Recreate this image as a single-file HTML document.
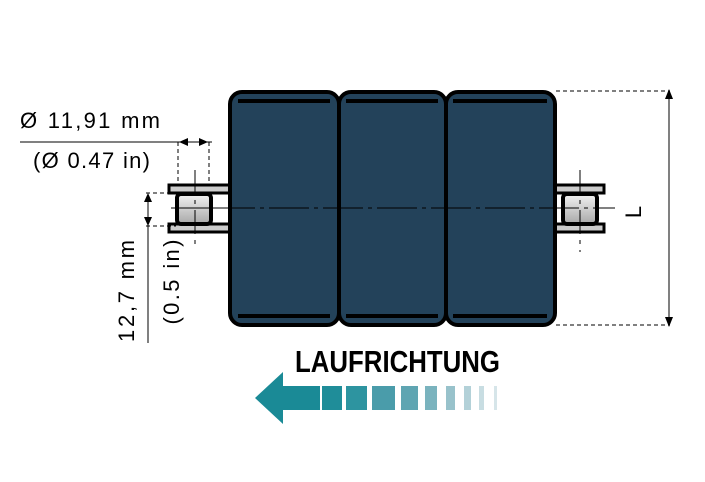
<!DOCTYPE html>
<html><head><style>body{margin:0;background:#fff}svg{display:block}</style></head><body>
<svg width="705" height="482" viewBox="0 0 705 482" xmlns="http://www.w3.org/2000/svg" font-family="Liberation Sans, sans-serif">
<defs><linearGradient id="g" x1="0" y1="0" x2="0" y2="1"><stop offset="0" stop-color="#f2f2f2"/><stop offset="1" stop-color="#a8a8a8"/></linearGradient></defs>
<rect x="169" y="185" width="62" height="8" fill="#ccc" stroke="#000" stroke-width="3"/>
<rect x="169" y="224" width="62" height="8" fill="#ccc" stroke="#000" stroke-width="3"/>
<rect x="177" y="194" width="34" height="30" rx="4" fill="url(#g)" stroke="#000" stroke-width="4"/>
<rect x="554" y="185" width="50" height="8" fill="#ccc" stroke="#000" stroke-width="3"/>
<rect x="554" y="224" width="50" height="8" fill="#ccc" stroke="#000" stroke-width="3"/>
<rect x="563" y="194" width="34" height="30" rx="4" fill="url(#g)" stroke="#000" stroke-width="4"/>
<g fill="#23425a" stroke="#000" stroke-width="4">
<rect x="230" y="92" width="109" height="233" rx="12"/>
<rect x="339" y="92" width="107" height="233" rx="12"/>
<rect x="446" y="92" width="109" height="233" rx="12"/>
</g>
<g stroke="#000" stroke-width="4">
<line x1="238" y1="101" x2="330" y2="101"/><line x1="238" y1="316" x2="330" y2="316"/>
<line x1="346" y1="101" x2="438" y2="101"/><line x1="346" y1="316" x2="438" y2="316"/>
<line x1="453" y1="101" x2="547" y2="101"/><line x1="453" y1="316" x2="547" y2="316"/>
</g>
<g stroke="#000" stroke-width="1">
<line x1="215" y1="208" x2="615" y2="208" stroke-dasharray="40,5,4,5"/>
<line x1="195" y1="170" x2="195" y2="250" stroke-dasharray="24,6,4,6"/>
<line x1="580" y1="170" x2="580" y2="252" stroke-dasharray="24,6,4,6"/>
<line x1="171" y1="208" x2="220" y2="208"/>
</g>
<g stroke="#000" stroke-width="1" fill="none">
<line x1="556" y1="91" x2="670" y2="91" stroke-dasharray="4,3"/>
<line x1="556" y1="325" x2="670" y2="325" stroke-dasharray="4,3"/>
<line x1="669" y1="93" x2="669" y2="323"/>
<line x1="20" y1="142" x2="212" y2="142"/>
<line x1="178" y1="142" x2="178" y2="186" stroke-dasharray="4,3"/>
<line x1="209" y1="142" x2="209" y2="186" stroke-dasharray="4,3"/>
<line x1="146" y1="193" x2="176" y2="193" stroke-dasharray="4,3"/>
<line x1="146" y1="226" x2="176" y2="226" stroke-dasharray="4,3"/>
<line x1="148" y1="195" x2="148" y2="343"/>
</g>
<g fill="#000">
<path d="M669 89 l-4 10 h8z"/><path d="M669 327 l-4 -10 h8z"/>
<path d="M179 142 l9 -4 v8z"/><path d="M208 142 l-9 -4 v8z"/>
<path d="M148 193 l-4 9 h8z"/><path d="M148 226 l-4 -9 h8z"/>
</g>
<text x="20" y="128" font-size="22" textLength="140" lengthAdjust="spacing">Ø 11,91 mm</text>
<text x="33" y="168" font-size="22" textLength="117" lengthAdjust="spacing">(Ø 0.47 in)</text>
<text transform="translate(134,291) rotate(-90)" font-size="22" text-anchor="middle" textLength="102" lengthAdjust="spacing">12,7 mm</text>
<text transform="translate(179,282) rotate(-90)" font-size="22" text-anchor="middle" textLength="85" lengthAdjust="spacing">(0.5 in)</text>
<text transform="translate(641,212) rotate(-90)" font-size="22" text-anchor="middle">L</text>
<text x="295" y="372" font-size="31" font-weight="bold" textLength="205" lengthAdjust="spacingAndGlyphs">LAUFRICHTUNG</text>
<path d="M255 398 L283 372 V386 H320 V410 H283 V424Z" fill="#1a8a96"/>
<rect x="322" y="386" width="20" height="24" fill="#1f8d99"/>
<rect x="346" y="386" width="21" height="24" fill="#2d94a0"/>
<rect x="372" y="386" width="23" height="24" fill="#4a9caa"/>
<rect x="401" y="386" width="17" height="24" fill="#5fa5b2"/>
<rect x="425" y="386" width="12" height="24" fill="#7ab3be"/>
<rect x="446" y="386" width="9" height="24" fill="#98c2cb"/>
<rect x="464" y="386" width="7" height="24" fill="#b3d1d8"/>
<rect x="479" y="386" width="5" height="24" fill="#c8dde2"/>
<rect x="494" y="386" width="3" height="24" fill="#d6e5e9"/>
</svg>
</body></html>
